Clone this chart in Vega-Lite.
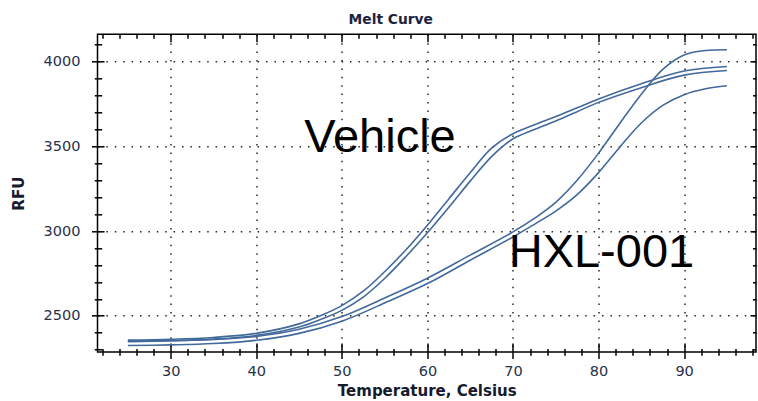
{
  "$schema": "https://vega.github.io/schema/vega-lite/v6.json",
  "width": 658.5,
  "height": 317.7,
  "autosize": {"type": "none"},
  "padding": {"left": 97.5, "top": 34.3, "right": 2, "bottom": 49},
  "background": "white",
  "title": {
    "text": "Melt Curve",
    "font": "DejaVu Sans",
    "fontSize": 13.8,
    "fontWeight": "bold",
    "color": "#1c2340",
    "anchor": "middle",
    "frame": "group",
    "baseline": "alphabetic",
    "dx": -36,
    "offset": -4
  },
  "config": {
    "view": {"stroke": "black", "strokeWidth": 1.5},
    "axis": {
      "domain": false,
      "tickColor": "black",
      "tickWidth": 1.5,
      "labelFont": "DejaVu Sans",
      "labelFontSize": 14.5,
      "labelColor": "#27304a",
      "titleFont": "DejaVu Sans",
      "titleFontSize": 15,
      "titleFontWeight": "bold",
      "titleColor": "#161a2c",
      "gridColor": "black",
      "gridOpacity": 0.85,
      "gridWidth": 1.5,
      "gridDash": [1.5, 6.9]
    }
  },
  "datasets": {
    "melt": [
      {"well": "Vehicle A", "temp": 25, "rfu": 2356},
      {"well": "Vehicle A", "temp": 30, "rfu": 2361},
      {"well": "Vehicle A", "temp": 35, "rfu": 2372},
      {"well": "Vehicle A", "temp": 40, "rfu": 2396},
      {"well": "Vehicle A", "temp": 45, "rfu": 2452},
      {"well": "Vehicle A", "temp": 47.5, "rfu": 2500},
      {"well": "Vehicle A", "temp": 50, "rfu": 2560},
      {"well": "Vehicle A", "temp": 52.5, "rfu": 2645},
      {"well": "Vehicle A", "temp": 55, "rfu": 2760},
      {"well": "Vehicle A", "temp": 57.5, "rfu": 2890},
      {"well": "Vehicle A", "temp": 60, "rfu": 3035},
      {"well": "Vehicle A", "temp": 62.5, "rfu": 3190},
      {"well": "Vehicle A", "temp": 65, "rfu": 3345},
      {"well": "Vehicle A", "temp": 67.5, "rfu": 3490},
      {"well": "Vehicle A", "temp": 70, "rfu": 3575},
      {"well": "Vehicle A", "temp": 72.5, "rfu": 3628},
      {"well": "Vehicle A", "temp": 75, "rfu": 3676},
      {"well": "Vehicle A", "temp": 77.5, "rfu": 3728},
      {"well": "Vehicle A", "temp": 80, "rfu": 3780},
      {"well": "Vehicle A", "temp": 85, "rfu": 3870},
      {"well": "Vehicle A", "temp": 90, "rfu": 3945},
      {"well": "Vehicle A", "temp": 95, "rfu": 3972},
      {"well": "Vehicle B", "temp": 25, "rfu": 2347},
      {"well": "Vehicle B", "temp": 30, "rfu": 2352},
      {"well": "Vehicle B", "temp": 35, "rfu": 2362},
      {"well": "Vehicle B", "temp": 40, "rfu": 2384},
      {"well": "Vehicle B", "temp": 45, "rfu": 2434},
      {"well": "Vehicle B", "temp": 47.5, "rfu": 2478},
      {"well": "Vehicle B", "temp": 50, "rfu": 2532},
      {"well": "Vehicle B", "temp": 52.5, "rfu": 2610},
      {"well": "Vehicle B", "temp": 55, "rfu": 2720},
      {"well": "Vehicle B", "temp": 57.5, "rfu": 2850},
      {"well": "Vehicle B", "temp": 60, "rfu": 2990},
      {"well": "Vehicle B", "temp": 62.5, "rfu": 3140},
      {"well": "Vehicle B", "temp": 65, "rfu": 3295},
      {"well": "Vehicle B", "temp": 67.5, "rfu": 3440},
      {"well": "Vehicle B", "temp": 70, "rfu": 3545},
      {"well": "Vehicle B", "temp": 72.5, "rfu": 3600},
      {"well": "Vehicle B", "temp": 75, "rfu": 3650},
      {"well": "Vehicle B", "temp": 77.5, "rfu": 3705},
      {"well": "Vehicle B", "temp": 80, "rfu": 3760},
      {"well": "Vehicle B", "temp": 85, "rfu": 3847},
      {"well": "Vehicle B", "temp": 90, "rfu": 3921},
      {"well": "Vehicle B", "temp": 95, "rfu": 3948},
      {"well": "HXL-001 A", "temp": 25, "rfu": 2350},
      {"well": "HXL-001 A", "temp": 30, "rfu": 2353},
      {"well": "HXL-001 A", "temp": 35, "rfu": 2360},
      {"well": "HXL-001 A", "temp": 40, "rfu": 2378},
      {"well": "HXL-001 A", "temp": 45, "rfu": 2420},
      {"well": "HXL-001 A", "temp": 50, "rfu": 2495},
      {"well": "HXL-001 A", "temp": 55, "rfu": 2605},
      {"well": "HXL-001 A", "temp": 60, "rfu": 2722},
      {"well": "HXL-001 A", "temp": 65, "rfu": 2858},
      {"well": "HXL-001 A", "temp": 70, "rfu": 2995},
      {"well": "HXL-001 A", "temp": 72.5, "rfu": 3075},
      {"well": "HXL-001 A", "temp": 75, "rfu": 3170},
      {"well": "HXL-001 A", "temp": 77.5, "rfu": 3300},
      {"well": "HXL-001 A", "temp": 80, "rfu": 3460},
      {"well": "HXL-001 A", "temp": 82.5, "rfu": 3637},
      {"well": "HXL-001 A", "temp": 85, "rfu": 3808},
      {"well": "HXL-001 A", "temp": 87.5, "rfu": 3955},
      {"well": "HXL-001 A", "temp": 90, "rfu": 4040},
      {"well": "HXL-001 A", "temp": 92.5, "rfu": 4066},
      {"well": "HXL-001 A", "temp": 95, "rfu": 4071},
      {"well": "HXL-001 B", "temp": 25, "rfu": 2324},
      {"well": "HXL-001 B", "temp": 30, "rfu": 2328},
      {"well": "HXL-001 B", "temp": 35, "rfu": 2336},
      {"well": "HXL-001 B", "temp": 40, "rfu": 2355},
      {"well": "HXL-001 B", "temp": 45, "rfu": 2396},
      {"well": "HXL-001 B", "temp": 50, "rfu": 2468},
      {"well": "HXL-001 B", "temp": 55, "rfu": 2575},
      {"well": "HXL-001 B", "temp": 60, "rfu": 2690},
      {"well": "HXL-001 B", "temp": 65, "rfu": 2828},
      {"well": "HXL-001 B", "temp": 70, "rfu": 2965},
      {"well": "HXL-001 B", "temp": 72.5, "rfu": 3040},
      {"well": "HXL-001 B", "temp": 75, "rfu": 3118},
      {"well": "HXL-001 B", "temp": 77.5, "rfu": 3215},
      {"well": "HXL-001 B", "temp": 80, "rfu": 3345},
      {"well": "HXL-001 B", "temp": 82.5, "rfu": 3497},
      {"well": "HXL-001 B", "temp": 85, "rfu": 3638},
      {"well": "HXL-001 B", "temp": 87.5, "rfu": 3742},
      {"well": "HXL-001 B", "temp": 90, "rfu": 3805},
      {"well": "HXL-001 B", "temp": 92.5, "rfu": 3840},
      {"well": "HXL-001 B", "temp": 95, "rfu": 3858}
    ],
    "notes": [
      {"label": "Vehicle", "temp": 45.6, "rfu": 3467},
      {"label": "HXL-001", "temp": 69.5, "rfu": 2789}
    ]
  },
  "layer": [
    {
      "data": {"name": "melt"},
      "mark": {"type": "line", "interpolate": "catmull-rom", "color": "#42699c", "strokeWidth": 1.6},
      "encoding": {
        "x": {
          "field": "temp", "type": "quantitative",
          "scale": {"domain": [21.45, 98.4], "nice": false, "zero": false},
          "axis": {"orient": "bottom", "values": [30, 40, 50, 60, 70, 80, 90], "tickSize": 6.5, "labelPadding": 5.5, "grid": true, "title": "Temperature, Celsius", "titlePadding": 6}
        },
        "y": {
          "field": "rfu", "type": "quantitative",
          "scale": {"domain": [2286, 4162], "nice": false, "zero": false},
          "axis": {"orient": "left", "values": [2500, 3000, 3500, 4000], "format": "d", "tickSize": 6, "labelPadding": 11.5, "grid": true, "title": "RFU", "titlePadding": 17}
        },
        "detail": {"field": "well"}
      }
    },
    {
      "data": {"name": "notes"},
      "mark": {"type": "text", "font": "Liberation Sans", "fontSize": 47, "align": "left", "baseline": "alphabetic", "color": "black"},
      "encoding": {
        "x": {"field": "temp", "type": "quantitative", "scale": {"domain": [21.45, 98.4], "nice": false, "zero": false}, "axis": null},
        "y": {"field": "rfu", "type": "quantitative", "scale": {"domain": [2286, 4162], "nice": false, "zero": false}, "axis": null},
        "text": {"field": "label"}
      }
    },
    {
      "data": {"name": "notes"},
      "mark": {"type": "point", "opacity": 0},
      "encoding": {
        "x": {"field": "temp", "type": "quantitative", "scale": {"domain": [21.45, 98.4], "nice": false, "zero": false},
          "axis": {"orient": "bottom", "values": [30, 40, 50, 60, 70, 80, 90], "tickSize": -9, "labels": false, "grid": false, "title": null}},
        "y": {"field": "rfu", "type": "quantitative", "scale": {"domain": [2286, 4162], "nice": false, "zero": false},
          "axis": {"orient": "left", "values": [2500, 3000, 3500, 4000], "tickSize": -6.5, "labels": false, "grid": false, "title": null}}
      }
    },
    {
      "data": {"name": "notes"},
      "mark": {"type": "point", "opacity": 0},
      "encoding": {
        "x": {"field": "temp", "type": "quantitative", "scale": {"domain": [21.45, 98.4], "nice": false, "zero": false},
          "axis": {"orient": "bottom", "values": [22, 24, 26, 28, 32, 34, 36, 38, 42, 44, 46, 48, 52, 54, 56, 58, 62, 64, 66, 68, 72, 74, 76, 78, 82, 84, 86, 88, 92, 94, 96, 98], "tickSize": 3.3, "labels": false, "grid": false, "title": null}},
        "y": {"field": "rfu", "type": "quantitative", "scale": {"domain": [2286, 4162], "nice": false, "zero": false},
          "axis": {"orient": "left", "values": [2300, 2400, 2600, 2700, 2800, 2900, 3100, 3200, 3300, 3400, 3600, 3700, 3800, 3900, 4100], "tickSize": 3.2, "labels": false, "grid": false, "title": null}}
      }
    },
    {
      "data": {"name": "notes"},
      "mark": {"type": "point", "opacity": 0},
      "encoding": {
        "x": {"field": "temp", "type": "quantitative", "scale": {"domain": [21.45, 98.4], "nice": false, "zero": false},
          "axis": {"orient": "bottom", "values": [22, 24, 26, 28, 32, 34, 36, 38, 42, 44, 46, 48, 52, 54, 56, 58, 62, 64, 66, 68, 72, 74, 76, 78, 82, 84, 86, 88, 92, 94, 96, 98], "tickSize": -3.4, "labels": false, "grid": false, "title": null}},
        "y": {"field": "rfu", "type": "quantitative", "scale": {"domain": [2286, 4162], "nice": false, "zero": false},
          "axis": {"orient": "left", "values": [2300, 2400, 2600, 2700, 2800, 2900, 3100, 3200, 3300, 3400, 3600, 3700, 3800, 3900, 4100], "tickSize": -4.2, "labels": false, "grid": false, "title": null}}
      }
    },
    {
      "data": {"name": "notes"},
      "mark": {"type": "point", "opacity": 0},
      "encoding": {
        "x": {"field": "temp", "type": "quantitative", "scale": {"domain": [21.45, 98.4], "nice": false, "zero": false},
          "axis": {"orient": "top", "values": [30, 40, 50, 60, 70, 80, 90], "tickSize": -7.5, "labels": false, "grid": false, "title": null}},
        "y": {"field": "rfu", "type": "quantitative", "scale": {"domain": [2286, 4162], "nice": false, "zero": false},
          "axis": {"orient": "right", "values": [2500, 3000, 3500, 4000], "tickSize": -6, "labels": false, "grid": false, "title": null}}
      }
    },
    {
      "data": {"name": "notes"},
      "mark": {"type": "point", "opacity": 0},
      "encoding": {
        "x": {"field": "temp", "type": "quantitative", "scale": {"domain": [21.45, 98.4], "nice": false, "zero": false},
          "axis": {"orient": "top", "values": [22, 24, 26, 28, 32, 34, 36, 38, 42, 44, 46, 48, 52, 54, 56, 58, 62, 64, 66, 68, 72, 74, 76, 78, 82, 84, 86, 88, 92, 94, 96, 98], "tickSize": -4, "labels": false, "grid": false, "title": null}},
        "y": {"field": "rfu", "type": "quantitative", "scale": {"domain": [2286, 4162], "nice": false, "zero": false},
          "axis": {"orient": "right", "values": [2300, 2400, 2600, 2700, 2800, 2900, 3100, 3200, 3300, 3400, 3600, 3700, 3800, 3900, 4100], "tickSize": -3.5, "labels": false, "grid": false, "title": null}}
      }
    }
  ],
  "resolve": {"axis": {"x": "independent", "y": "independent"}}
}
